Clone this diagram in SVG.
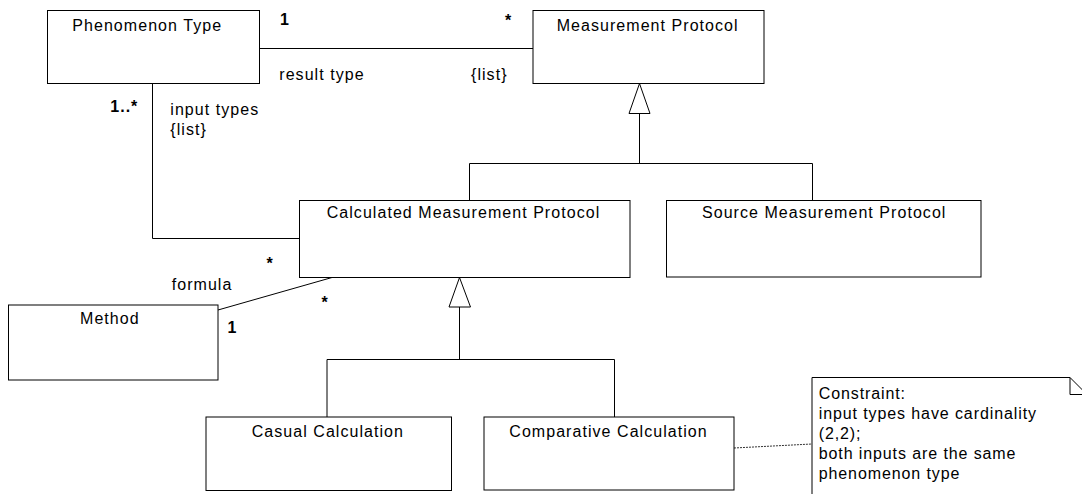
<svg xmlns="http://www.w3.org/2000/svg" width="1082" height="494" viewBox="0 0 1082 494">
<style>
.box{fill:#fff;stroke:#000;stroke-width:1}
.ln{fill:none;stroke:#000;stroke-width:1}
.tri{fill:#fff;stroke:#000;stroke-width:1}
.dot{fill:none;stroke:#333;stroke-width:1;stroke-dasharray:2,1}
text{font-family:"Liberation Sans",Arial,sans-serif;font-size:16px;fill:#000;letter-spacing:1.05px}
.b{font-weight:bold;letter-spacing:1px}
.n{letter-spacing:0.9px}
</style>
<rect width="1082" height="494" fill="#fff"/>
<g id="connectors">
<path class="ln" d="M260,48.5 H533"/>
<path class="ln" d="M152.5,83 V238.5 H299"/>
<path class="ln" d="M639.5,113.5 V163.5"/>
<path class="ln" d="M469.5,200 V163.5 H812.5 V200"/>
<polygon class="tri" points="639.5,83.5 629,113.5 650,113.5"/>
<path class="ln" d="M218,310 L332,277.5"/>
<path class="ln" d="M459.5,307 V359.5"/>
<path class="ln" d="M327,417 V359.5 H614.5 V417"/>
<polygon class="tri" points="459.5,277.5 449,307 470.5,307"/>
<path class="dot" d="M734,448 L812,444"/>
<text class="b" x="280" y="25">1</text>
<text class="b" x="505" y="26">*</text>
<text x="279.3" y="80">result type</text>
<text x="471" y="80">{list}</text>
<text class="b" x="110.3" y="112">1..*</text>
<text x="170.3" y="115">input types</text>
<text x="170.3" y="135">{list}</text>
<text class="b" x="266.5" y="269">*</text>
<text x="171.7" y="290">formula</text>
<text class="b" x="321.5" y="307.5">*</text>
<text class="b" x="227.5" y="333">1</text>
</g>
<g id="phenomenon-type">
<rect class="box" x="47.5" y="10.5" width="212" height="73"/>
<text x="72.3" y="31">Phenomenon Type</text>
</g>
<g id="measurement-protocol">
<rect class="box" x="533" y="10.5" width="231" height="73"/>
<text x="556.7" y="31">Measurement Protocol</text>
</g>
<g id="calculated-measurement-protocol">
<rect class="box" x="299.5" y="200.5" width="330.5" height="77"/>
<text x="326.7" y="218">Calculated Measurement Protocol</text>
</g>
<g id="source-measurement-protocol">
<rect class="box" x="666.5" y="200.5" width="314.5" height="76.5"/>
<text x="702" y="218">Source Measurement Protocol</text>
</g>
<g id="method">
<rect class="box" x="8.5" y="305" width="209.5" height="75"/>
<text x="80" y="324">Method</text>
</g>
<g id="casual-calculation">
<rect class="box" x="206" y="417" width="245.5" height="73.5"/>
<text x="251.7" y="436.7">Casual Calculation</text>
</g>
<g id="comparative-calculation">
<rect class="box" x="484" y="417" width="250" height="73"/>
<text x="509.3" y="437.3">Comparative Calculation</text>
</g>
<g id="constraint-note">
<path class="box" d="M812,500 V377.5 H1070 L1092,399.5 V500 Z"/>
<path class="ln" d="M1070,377.5 V394.5 H1087"/>
<text class="n" x="818.7" y="399">Constraint:</text>
<text class="n" x="818.7" y="419">input types have cardinality</text>
<text class="n" x="818.7" y="439">(2,2);</text>
<text class="n" x="818.7" y="459">both inputs are the same</text>
<text class="n" x="818.7" y="479">phenomenon type</text>
</g>
</svg>
